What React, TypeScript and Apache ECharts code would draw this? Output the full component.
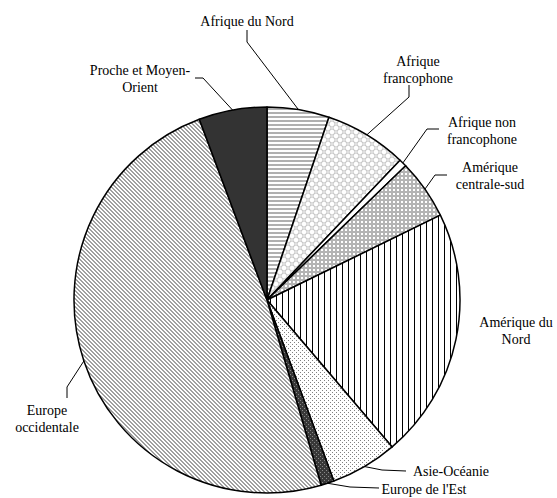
import React, { useEffect, useRef } from 'react';
import * as echarts from 'echarts';

const categories = [
  'Afrique du Nord',
  'Afrique francophone',
  'Afrique non francophone',
  'Amérique centrale-sud',
  'Amérique du Nord',
  'Asie-Océanie',
  "Europe de l'Est",
  'Europe occidentale',
  'Proche et Moyen-Orient',
];
const values = [5.2, 6.9, 0.65, 5.0, 21.0, 5.6, 1.1, 48.8, 5.7];
const labelTexts = [
  'Afrique du Nord',
  'Afrique\nfrancophone',
  'Afrique non\nfrancophone',
  'Amérique\ncentrale-sud',
  'Amérique du\nNord',
  'Asie-Océanie',
  "Europe de l'Est",
  'Europe\noccidentale',
  'Proche et Moyen-\nOrient',
];

// label layout (page coordinates): text centre, leader bend, leader end
const labelPos: [number, number][] = [
  [247, 21], [418, 70], [482, 131], [490, 176], [516, 331], [451, 471], [424, 489], [47, 419], [140, 79],
];
const lineBend: ([number, number] | null)[] = [
  [247, 42], [409, 97], [427, 129], [435, 175], null, [382, 470], [350, 487], [67, 387], [203, 78],
];
const lineEnd: ([number, number] | null)[] = [
  [247, 30], [409, 85], [439, 129], [447, 175], null, [406, 471], [379, 488], [67, 398], [195, 78],
];

type Draw = (ctx: CanvasRenderingContext2D, w: number, h: number) => void;
function makePattern(w: number, h: number, draw: Draw) {
  const c = document.createElement('canvas');
  c.width = w;
  c.height = h;
  const ctx = c.getContext('2d')!;
  draw(ctx, w, h);
  return { image: c.toDataURL(), imageWidth: w, imageHeight: h, repeat: 'repeat' } as any;
}
function px(ctx: CanvasRenderingContext2D, x: number, y: number, col: string) {
  ctx.fillStyle = col;
  ctx.fillRect(x, y, 1, 1);
}

function buildFills() {
  const afNord = makePattern(4, 4, (ctx) => {
    ctx.fillStyle = '#fff'; ctx.fillRect(0, 0, 4, 4);
    ctx.fillStyle = '#b0b0b0'; ctx.fillRect(0, 0, 4, 2);
  });
  const afFranco = makePattern(8, 8, (ctx) => {
    ctx.fillStyle = '#fff'; ctx.fillRect(0, 0, 8, 8);
    ctx.strokeStyle = '#c8c8c8'; ctx.lineWidth = 1;
    const pts = [[0, 0], [8, 0], [0, 8], [8, 8], [4, 4]];
    pts.forEach(([x, y]) => { ctx.beginPath(); ctx.arc(x, y, 3, 0, Math.PI * 2); ctx.stroke(); });
  });
  const afNon = '#ffffff';
  const amCS = makePattern(4, 4, (ctx) => {
    ctx.fillStyle = '#b4b4b4'; ctx.fillRect(0, 0, 4, 4);
    ctx.fillStyle = '#fff'; ctx.fillRect(1, 1, 2, 2);
  });
  const amN = makePattern(6, 6, (ctx) => {
    ctx.fillStyle = '#fff'; ctx.fillRect(0, 0, 6, 6);
    ctx.fillStyle = '#000'; ctx.fillRect(0, 0, 1, 6);
  });
  const asie = makePattern(4, 4, (ctx) => {
    ctx.fillStyle = '#fff'; ctx.fillRect(0, 0, 4, 4);
    px(ctx, 0, 0, '#808080'); px(ctx, 2, 2, '#808080');
  });
  const euEst = makePattern(4, 4, (ctx) => {
    ctx.fillStyle = '#383838'; ctx.fillRect(0, 0, 4, 4);
    px(ctx, 0, 0, '#8a8a8a'); px(ctx, 2, 2, '#8a8a8a');
  });
  const euOcc = makePattern(4, 4, (ctx) => {
    ctx.fillStyle = '#fff'; ctx.fillRect(0, 0, 4, 4);
    for (let y = 0; y < 4; y++) for (let x = 0; x < 4; x++) {
      const d = (((x - y) % 4) + 4) % 4;
      if (d === 0 || d === 1) px(ctx, x, y, '#a0a0a0');
    }
  });
  const proche = '#333333';
  return [afNord, afFranco, afNon, amCS, amN, asie, euEst, euOcc, proche];
}

const pieBase = {
  type: 'pie',
  center: [267, 300],
  radius: 193,
  startAngle: 90,
  clockwise: true,
  silent: true,
};

export default function App() {
  const refA = useRef<HTMLDivElement>(null);
  const refB = useRef<HTMLDivElement>(null);
  useEffect(() => {
    if (!refA.current || !refB.current) return;
    // chart A: patterned sectors
    const chartA = echarts.init(refA.current, null, { renderer: 'svg' });
    const fills = buildFills();
    chartA.setOption({
      animation: false,
      series: [
        {
          ...pieBase,
          data: categories.map((name, i) => ({ name, value: values[i], itemStyle: { color: fills[i] } })),
          itemStyle: { borderColor: '#000', borderWidth: 1.5 },
          label: { show: false },
          labelLine: { show: false },
        },
      ],
    });
    // chart B: labels and leader lines over the same pie geometry
    const chartB = echarts.init(refB.current, null, { renderer: 'svg' });
    chartB.setOption({
      animation: false,
      series: [
        {
          ...pieBase,
          data: categories.map((name, i) => ({
            name,
            value: values[i],
            labelLine: { show: lineBend[i] !== null },
          })),
          itemStyle: { color: 'rgba(0,0,0,0)', borderWidth: 0 },
          label: {
            show: true,
            position: 'outside',
            formatter: (p: any) => labelTexts[p.dataIndex],
            fontFamily: 'Liberation Serif',
            fontSize: 14,
            lineHeight: 17,
            color: '#000',
            align: 'center',
            overflow: 'none',
          },
          labelLine: {
            show: true,
            length: 10,
            length2: 10,
            lineStyle: { color: '#000', width: 1 },
          },
          labelLayout: (params: any) => {
            const i = params.dataIndex;
            const [x, y] = labelPos[i];
            const res: any = { x, y, align: 'center', verticalAlign: 'middle' };
            const b = lineBend[i];
            const e = lineEnd[i];
            if (b && e && params.labelLinePoints) {
              res.labelLinePoints = [params.labelLinePoints[0], b, e];
            }
            return res;
          },
        },
      ],
    });
    return () => {
      chartA.dispose();
      chartB.dispose();
    };
  }, []);
  return (
    <div>
      <div
        ref={refA}
        style={{ position: 'fixed', left: 0, top: 0, width: 557, height: 498, background: '#fff' }}
      />
      <div
        ref={refB}
        style={{ position: 'fixed', left: 0, top: 0, width: 557, height: 498 }}
      />
    </div>
  );
}
